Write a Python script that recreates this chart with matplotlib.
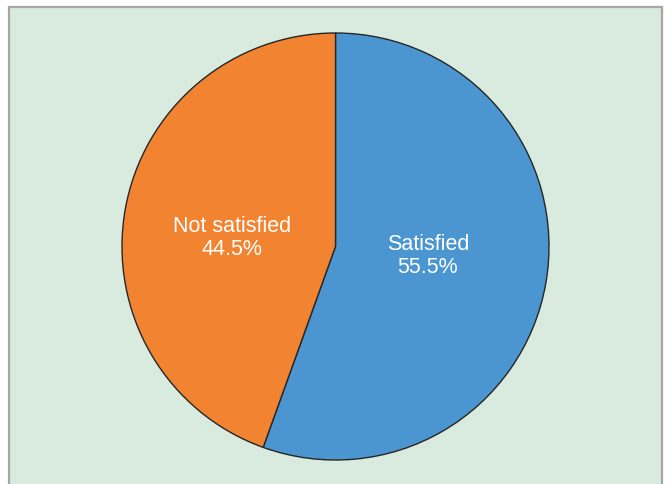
import numpy as np
import matplotlib
matplotlib.use('Agg')
import matplotlib.pyplot as plt
from matplotlib.patches import Rectangle

labels = ['Satisfied', 'Not satisfied']
shares = [55.5, 44.5]
colors = ['#4b96d1', '#f28431']

plt.rcParams['font.family'] = ['Liberation Sans', 'DejaVu Sans']

fig = plt.figure(figsize=(6.7, 4.85), dpi=100)
fig.patch.set_facecolor('white')

# green panel with a grey border (bottom edge runs off the image)
panel = Rectangle((8.5 / 670, -0.05), (662 - 8.5) / 670, 1 - 7.5 / 485 + 0.05,
                  transform=fig.transFigure, facecolor='#d9eadf',
                  edgecolor='#a6a6a6', linewidth=1.6, zorder=-5)
fig.patches.append(panel)

ax = fig.add_axes([122 / 670, 24 / 485, 427 / 670, 427 / 485])
ax.set_zorder(2)
ax.set_facecolor('none')
wedges, _ = ax.pie(shares, colors=colors, startangle=90, counterclock=False,
                   radius=1.0, wedgeprops=dict(edgecolor='#262626', linewidth=1.0))

# label radii tuned to match the original placement
label_r = [0.434, 0.487]
for w, lab, val, r in zip(wedges, labels, shares, label_r):
    ang = np.deg2rad((w.theta1 + w.theta2) / 2 + 4.7)
    ax.text(r * np.cos(ang), r * np.sin(ang), f'{lab}\n{val}%',
            ha='center', va='center', color='white', fontsize=15.5,
            linespacing=1.15)

ax.set_xlim(-1.0, 1.0)
ax.set_ylim(-1.0, 1.0)
ax.set_aspect('equal')
ax.axis('off')

fig.savefig('out.png', dpi=100)
